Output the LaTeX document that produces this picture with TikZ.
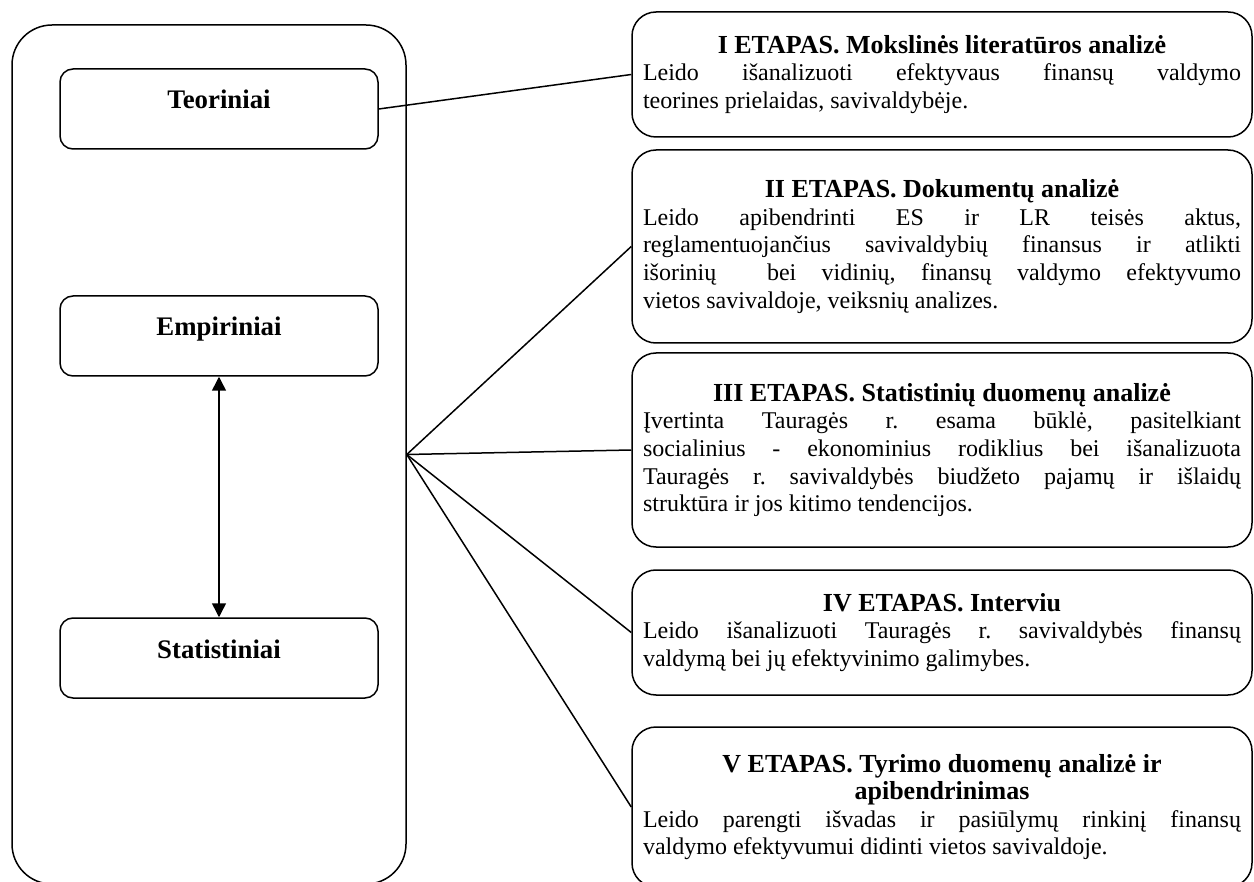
\documentclass[tikz,border=0pt]{standalone}
\usepackage{fontspec}
\setmainfont{Liberation Serif}
\usetikzlibrary{arrows.meta}
\frenchspacing
\tolerance=10000
\hbadness=10000
\newcommand{\stagehead}[1]{\centerline{\fontsize{13pt}{13.8pt}\selectfont\bfseries #1}}

\begin{document}
\begin{tikzpicture}[
    x=0.5pt, y=-0.5pt, line width=0.75pt,
    font=\fontsize{12pt}{13.8pt}\selectfont,
    group/.style={rectangle, draw, rounded corners=20pt,
        minimum width=197pt, minimum height=429.5pt},
    method/.style={rectangle, draw, rounded corners=6.5pt, inner sep=0pt,
        text width=159pt, text height=20pt, text depth=20pt, align=center,
        font=\fontsize{13.4pt}{14pt}\selectfont\bfseries},
    stage/.style={rectangle, draw, rounded corners=12pt, inner xsep=5.5pt,
        text width=299pt, minimum width=310pt, align=justify},
    link/.style={draw},
    twoway/.style={draw, {Triangle[length=7pt,width=7pt]}-{Triangle[length=7pt,width=7pt]}}
]
\useasboundingbox (0,0) rectangle (1254,882);

% left block: research methods
\node (Methods) [group] at (209,454.5) {};
\node (Theory) [method] at (219,109) {Teoriniai};
\node (Empiric) [method] at (219,336) {Empiriniai};
\node (Statist) [method] at (219,658) {Statistiniai};

% right block: stages
\node (Stage01) [stage, minimum height=62.5pt] at (942,74.5) {
  \stagehead{I ETAPAS. Mokslinės literatūros analizė}
  \noindent Leido išanalizuoti efektyvaus finansų valdymo\linebreak
  teorines prielaidas, savivaldybėje.};
\node (Stage02) [stage, minimum height=96.5pt] at (942,246.5) {
  \stagehead{II ETAPAS. Dokumentų analizė}
  \noindent Leido apibendrinti ES ir LR teisės aktus,\linebreak
  reglamentuojančius savivaldybių finansus ir atlikti\linebreak
  išorinių\ \ bei vidinių, finansų valdymo efektyvumo\linebreak
  vietos savivaldoje, veiksnių analizes.};
\node (Stage03) [stage, minimum height=97pt] at (942,450) {
  \stagehead{III ETAPAS. Statistinių duomenų analizė}
  \noindent Įvertinta Tauragės r. esama būklė, pasitelkiant\linebreak
  socialinius - ekonominius rodiklius bei išanalizuota\linebreak
  Tauragės r. savivaldybės biudžeto pajamų ir išlaidų\linebreak
  struktūra ir jos kitimo tendencijos.};
\node (Stage04) [stage, minimum height=62.5pt] at (942,632.5) {
  \stagehead{IV ETAPAS. Interviu}
  \noindent Leido išanalizuoti Tauragės r. savivaldybės finansų\linebreak
  valdymą bei jų efektyvinimo galimybes.};
\node (Stage05) [stage, minimum height=80pt] at (942,807) {
  \stagehead{V ETAPAS. Tyrimo duomenų analizė ir}
  \stagehead{apibendrinimas}
  \noindent Leido parengti išvadas ir pasiūlymų rinkinį finansų\linebreak
  valdymo efektyvumui didinti vietos savivaldoje.};

% connectors
\draw [twoway] (Empiric) -- (Statist);
\draw [link] (Theory.east) -- (Stage01.west);
\foreach \n in {02,03,04,05}
  \draw [link] (Methods.east) -- (Stage\n.west);
\end{tikzpicture}
\end{document}
